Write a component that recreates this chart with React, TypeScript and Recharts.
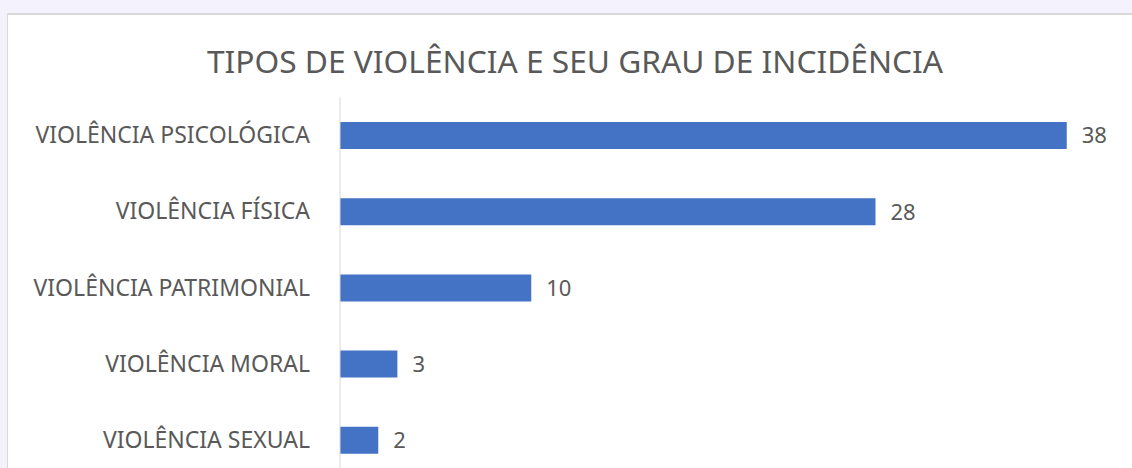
import React from 'react';
import { BarChart, Bar, XAxis, YAxis, LabelList } from 'recharts';

const categories = [
  'VIOLÊNCIA PSICOLÓGICA',
  'VIOLÊNCIA FÍSICA',
  'VIOLÊNCIA PATRIMONIAL',
  'VIOLÊNCIA MORAL',
  'VIOLÊNCIA SEXUAL',
];
const counts = [38, 28, 10, 3, 2];

const data = categories.map((name, i) => ({ name, value: counts[i] }));

const FONT = '"Noto Sans", "Open Sans", sans-serif';

const App: React.FC = () => {
  return (
    <div style={{ position: 'absolute', left: 0, top: 0, width: 1132, height: 468, background: '#f3f2fd', overflow: 'hidden', fontFamily: FONT }}>
      <div style={{ position: 'absolute', left: 7, top: 13, width: 1140, height: 480, background: '#fff', border: '1px solid #d9d9d9', boxSizing: 'border-box', borderTopWidth: 2 }}>
        <div style={{ position: 'absolute', left: 0, width: 1138, top: 24, textAlign: 'center', fontSize: 31.7, lineHeight: '44px', color: '#595959', transform: 'translateX(-2px)' }}>
          TIPOS DE VIOLÊNCIA E SEU GRAU DE INCIDÊNCIA
        </div>
        <div style={{ position: 'absolute', left: 0, top: 0 }}>
          <BarChart
            width={1124}
            height={480}
            data={data}
            layout="vertical"
            margin={{ top: 82, right: 27, bottom: 17, left: 0 }}
          >
            <XAxis type="number" domain={[0, 40]} hide />
            <YAxis
              type="category"
              dataKey="name"
              width={332}
              axisLine={{ stroke: '#d9d9d9' }}
              tickLine={false}
              tickMargin={24}
              tick={{ fill: '#595959', fontSize: 23, fontFamily: FONT }}
            />
            <Bar dataKey="value" fill="#4472c4" barSize={27} isAnimationActive={false}>
              <LabelList dataKey="value" position="right" offset={15} fill="#595959" fontSize={22} fontFamily={FONT} />
            </Bar>
          </BarChart>
        </div>
      </div>
    </div>
  );
};

export default App;
